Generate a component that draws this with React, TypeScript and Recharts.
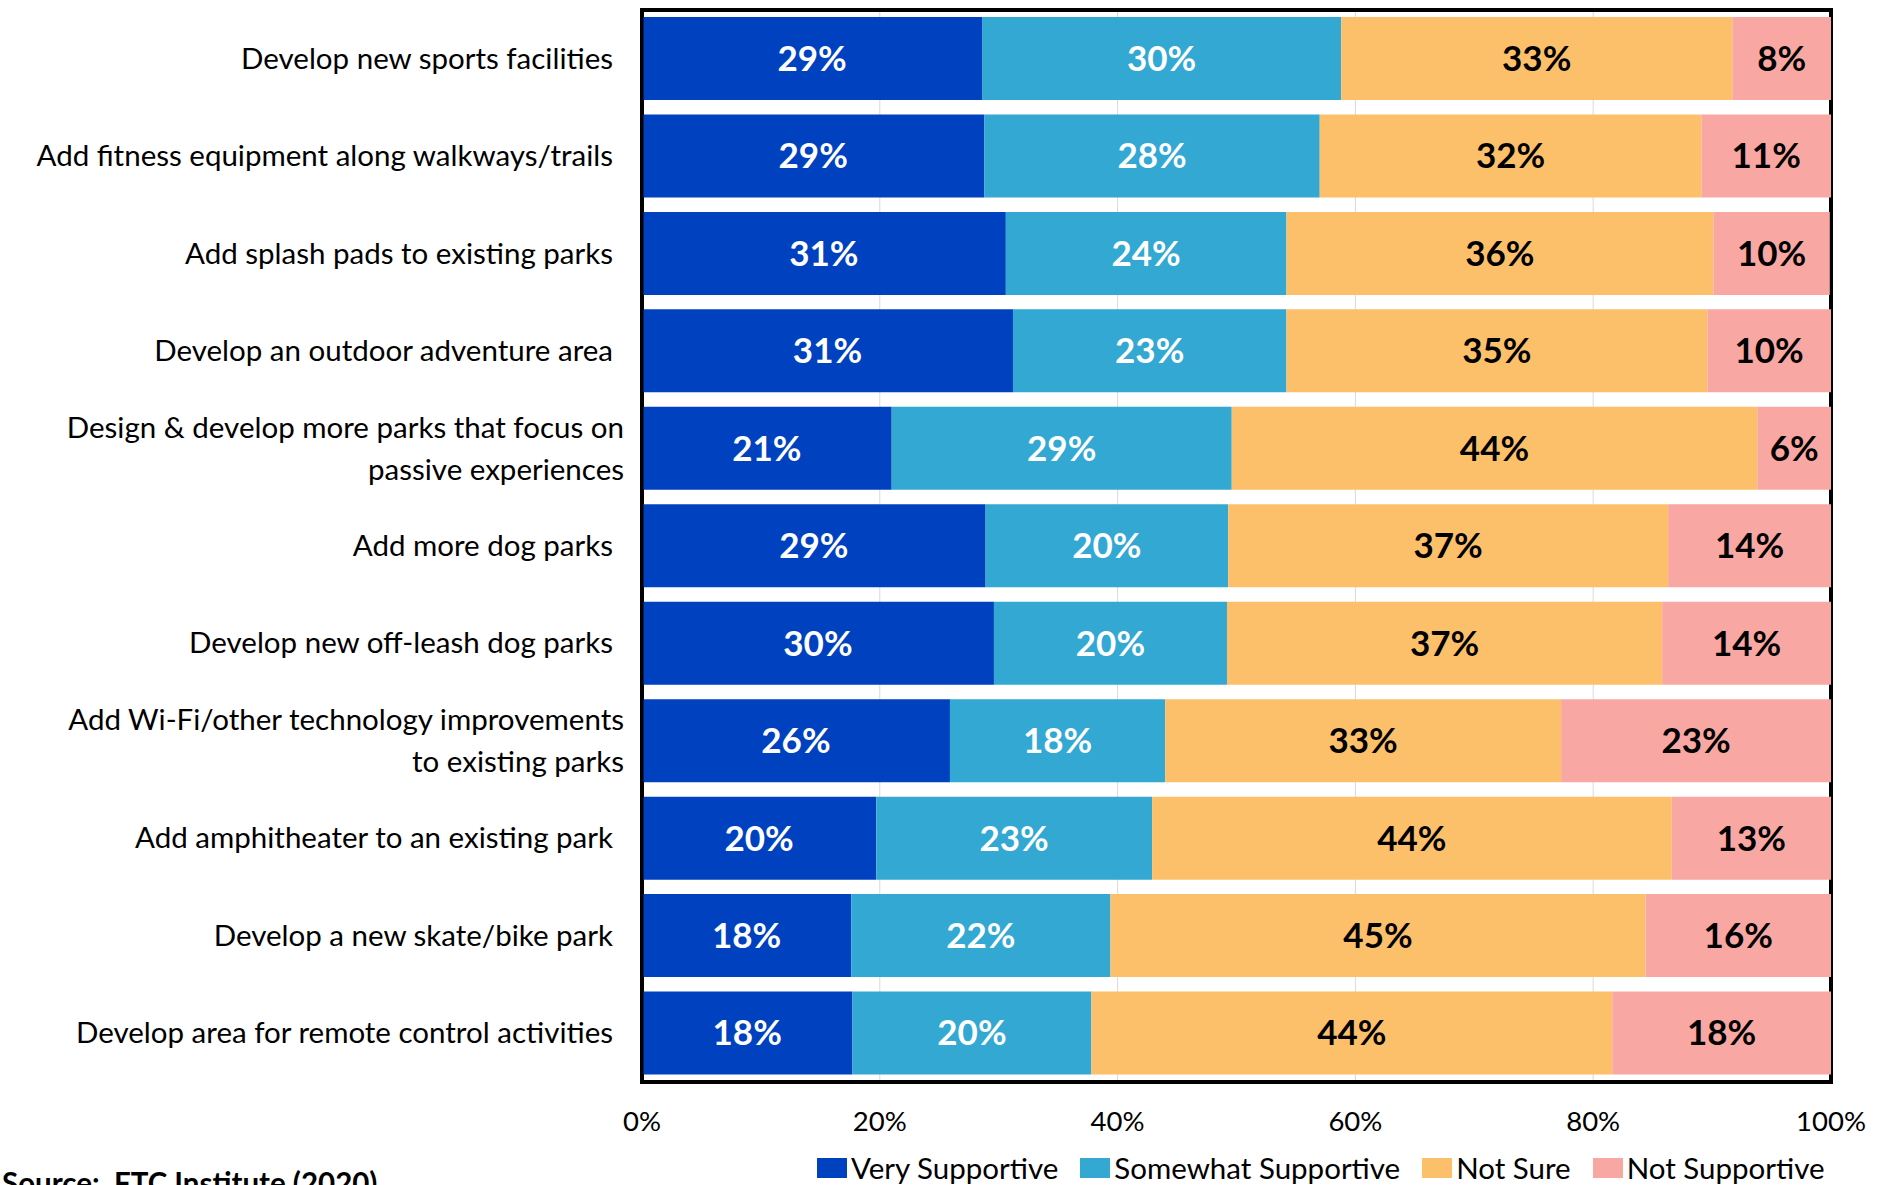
import {
  BarChart,
  Bar,
  XAxis,
  YAxis,
  CartesianGrid,
  Legend,
  LabelList,
  ReferenceArea,
} from "recharts";

const items = [
  "Develop new sports facilities",
  "Add fitness equipment along walkways/trails",
  "Add splash pads to existing parks",
  "Develop an outdoor adventure area",
  "Design & develop more parks that focus on\npassive experiences",
  "Add more dog parks",
  "Develop new off-leash dog parks",
  "Add Wi-Fi/other technology improvements\nto existing parks",
  "Add amphitheater to an existing park",
  "Develop a new skate/bike park",
  "Develop area for remote control activities",
];

const verySupportive = [28.6, 28.8, 30.6, 31.2, 21.0, 28.9, 29.6, 25.9, 19.7, 17.6, 17.7];
const somewhatSupportive = [30.2, 28.2, 23.6, 23.0, 28.6, 20.4, 19.6, 18.1, 23.2, 21.8, 20.1];
const notSure = [32.9, 32.1, 35.9, 35.4, 44.2, 37.0, 36.6, 33.3, 43.7, 45.0, 43.8];
const notSupportive = [8.3, 10.9, 9.8, 10.4, 6.2, 13.7, 14.2, 22.7, 13.4, 15.6, 18.4];

const seriesNames = ["Very Supportive", "Somewhat Supportive", "Not Sure", "Not Supportive"];
const xTicks = [0, 20, 40, 60, 80, 100];

const FONT = "Lato, 'Open Sans', sans-serif";

const data = items.map((item, i) => ({
  item,
  very: verySupportive[i],
  somewhat: somewhatSupportive[i],
  notSure: notSure[i],
  notSupportive: notSupportive[i],
}));

const pct = (v: any) => `${Math.round(Number(v))}%`;

const ItemTick = (props: any) => {
  const { x, y, payload } = props;
  const lines: string[] = String(payload.value).split("\n");
  const dx = lines.length > 1 ? 11 : 0;
  const lh = 42;
  return (
    <text x={x + dx} y={y} textAnchor="end" fontSize={29.5} fill="#000">
      {lines.map((l, i) => (
        <tspan key={i} x={x + dx} dy={i === 0 ? -((lines.length - 1) * lh) / 2 + 10 : lh}>
          {l}
        </tspan>
      ))}
    </text>
  );
};

const LegendContent = (props: any) => {
  const payload = [...(props.payload || [])].sort(
    (a: any, b: any) => seriesNames.indexOf(a.value) - seriesNames.indexOf(b.value)
  );
  return (
    <div style={{ display: "flex", alignItems: "center", fontSize: 29.5, lineHeight: "36px" }}>
      {payload.map((e: any) => (
        <div key={e.value} style={{ display: "flex", alignItems: "center", marginRight: 22 }}>
          <span style={{ width: 30, height: 20, background: e.color, marginRight: 4 }} />
          <span>{e.value}</span>
        </div>
      ))}
    </div>
  );
};

const frame = { stroke: "#000", strokeWidth: 3, strokeLinecap: "square" as const };

export default function App() {
  return (
    <div style={{ position: "absolute", left: 0, top: 0, width: 1889, height: 1185, fontFamily: FONT, background: "#fff" }}>
      <BarChart
        width={1889}
        height={1185}
        data={data}
        layout="vertical"
        barSize={83}
        margin={{ top: 10, right: 58, bottom: 53, left: 0 }}
      >
        <CartesianGrid horizontal={false} stroke="#d9d9d9" />
        <XAxis
          type="number"
          domain={[0, 100]}
          ticks={xTicks}
          tickFormatter={pct}
          axisLine={frame}
          tickLine={false}
          tickSize={0}
          tickMargin={29}
          height={50}
          tick={{ fontSize: 27.5, fill: "#000" }}
        />
        <YAxis
          type="category"
          dataKey="item"
          width={642}
          interval={0}
          axisLine={frame}
          tickLine={false}
          tickSize={0}
          tickMargin={29}
          tick={<ItemTick />}
        />
        <Legend
          verticalAlign="middle"
          align="center"
          layout="horizontal"
          content={<LegendContent />}
          wrapperStyle={{ left: 817, top: 1150, width: "auto" }}
        />
        <Bar dataKey="very" name={seriesNames[0]} stackId="a" fill="#0041C0" isAnimationActive={false}>
          <LabelList dataKey="very" position="center" formatter={pct} fill="#fff" fontSize={35} fontWeight={700} />
        </Bar>
        <Bar dataKey="somewhat" name={seriesNames[1]} stackId="a" fill="#32A8D2" isAnimationActive={false}>
          <LabelList dataKey="somewhat" position="center" formatter={pct} fill="#fff" fontSize={35} fontWeight={700} />
        </Bar>
        <Bar dataKey="notSure" name={seriesNames[2]} stackId="a" fill="#FDC06A" isAnimationActive={false}>
          <LabelList dataKey="notSure" position="center" formatter={pct} fill="#000" fontSize={35} fontWeight={700} />
        </Bar>
        <Bar dataKey="notSupportive" name={seriesNames[3]} stackId="a" fill="#F9A7A2" isAnimationActive={false}>
          <LabelList dataKey="notSupportive" position="center" formatter={pct} fill="#000" fontSize={35} fontWeight={700} />
        </Bar>
        <ReferenceArea x1={0} x2={100} fill="none" stroke="#000" strokeWidth={4} ifOverflow="visible" />
      </BarChart>
      <div style={{ position: "absolute", left: 2, top: 1168, fontSize: 29.5, lineHeight: "29px", fontWeight: 700, whiteSpace: "pre" }}>
        {"Source:  FTC Institute (2020)"}
      </div>
    </div>
  );
}
